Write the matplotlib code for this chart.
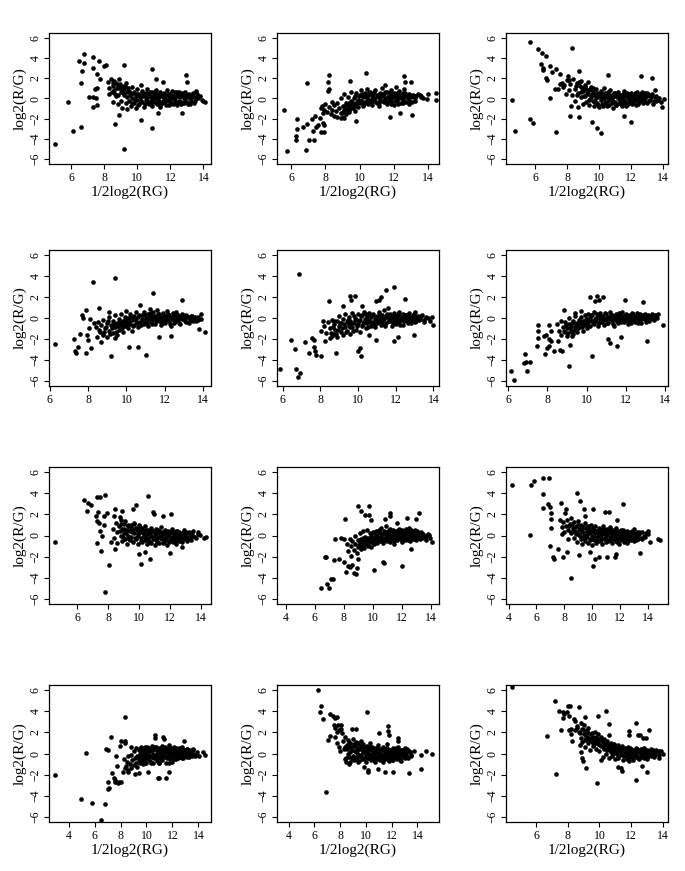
import matplotlib
matplotlib.use("Agg")
import matplotlib.pyplot as plt
from matplotlib.ticker import MultipleLocator

plt.rcParams['font.family'] = ['Liberation Serif', 'DejaVu Serif']

# MA-plot points (A = 1/2log2(RG), M = log2(R/G))
panel1 = [(5.0,-4.55),(5.8,-0.35),(6.1,-3.23),(6.6,-2.84),(6.44,3.72),(6.77,4.42),(6.66,2.72),(6.75,3.5),
          (6.56,1.56),(7.31,4.07),(7.67,3.75),(7.31,3.04),(7.57,2.46),(7.71,1.92),(7.96,3.2),(8.08,3.33),
          (7.07,0.15),(7.31,0.12),(7.51,0.05),(7.33,-0.85),(7.53,-0.66),(7.43,0.98),(7.53,1.08),(9.19,3.33),
          (10.9,2.88),(11.1,1.92),(12.92,2.3),(13.0,1.66),(9.17,-5.03),(8.62,-2.52),(10.23,-2.13),(10.88,-2.9),
          (8.9,-1.65),(12.71,-1.46),(11.24,-1.46),(14.0,-0.27),(14.12,-0.33),(13.56,0.7),(11.54,1.66),
          (8.2,1.6),(8.3,1.0),(8.3,0.4),(8.4,1.9),(8.5,1.2),(8.5,-0.3),(8.6,1.7),(8.6,0.8),(8.7,1.5),(8.7,0.2),
          (8.8,1.3),(8.8,-0.5),(8.9,1.0),(8.9,1.9),(9.0,0.6),(9.0,-0.2),(9.1,1.2),(9.1,-0.9),(9.2,0.3),(9.2,0.9),
          (9.3,-0.4),(9.3,1.5),(9.4,0.1),(9.4,-1.0),(9.5,0.7),(9.5,-0.2),(9.6,0.4),(9.6,-0.7),(9.7,1.1),(9.7,0.0),
          (9.8,-0.4),(9.8,0.6),(9.9,0.2),(9.9,-0.9),(10.0,0.9),(10.0,-0.1),(10.1,0.4),(10.1,-0.5),(10.2,1.3),
          (10.2,0.1),(10.3,-0.3),(10.3,0.7),(10.4,0.2),(10.4,-0.8),(10.5,0.5),(10.5,-0.1),(10.6,0.9),(10.6,0.0),
          (10.7,-0.5),(10.7,0.4),(10.8,0.1),(10.8,-0.2),(10.9,0.6),(10.9,-0.7),(11.0,0.3),(11.0,-0.3),(11.1,0.8),
          (11.1,0.0),(11.2,-0.5),(11.2,0.4),(11.3,0.1),(11.3,-0.2),(11.4,0.6),(11.4,-0.8),(11.5,0.2),(11.5,-0.4),
          (11.6,0.5),(11.6,0.0),(11.7,-0.3),(11.7,0.3),(11.8,0.8),(11.8,-0.1),(11.9,0.1),(11.9,-0.6),(12.0,0.4),
          (12.0,-0.2),(12.1,0.2),(12.1,0.7),(12.2,-0.4),(12.2,0.0),(12.3,0.3),(12.3,-0.1),(12.4,0.6),(12.4,-0.6),
          (12.5,0.1),(12.5,0.4),(12.6,-0.2),(12.6,0.2),(12.7,0.5),(12.7,-0.4),(12.8,0.0),(12.8,0.3),(12.9,-0.2),
          (12.9,0.6),(13.0,0.1),(13.0,-0.3),(13.1,0.4),(13.2,0.0),(13.2,-0.5),(13.3,0.3),(13.4,0.1),(13.5,-0.2),
          (13.6,0.4),(13.7,0.0),(13.8,0.2),(13.9,-0.1)]
core1 = [(8.45,0.6),(8.55,1.5),(8.65,0.4),(8.75,1.0),(8.85,0.3),(8.95,1.4),(9.05,0.9),(9.15,0.5),(9.25,1.2),
         (9.35,0.6),(9.45,1.0),(9.55,0.3),(9.65,-0.4),(9.75,0.5),(9.85,-0.1),(9.95,0.4),(10.05,-0.6),(10.15,0.1),
         (10.25,-0.2),(10.35,0.5),(10.45,-0.5),(10.55,0.2),(10.65,-0.3),(10.75,0.6),(10.85,-0.4),(10.95,0.0),
         (11.05,0.6),(11.15,-0.3),(11.25,0.1),(11.35,-0.6),(11.45,0.4),(11.55,-0.2),(11.65,0.2),(11.75,-0.6),
         (11.85,0.4),(11.95,-0.3),(12.05,0.0),(12.15,-0.5),(12.25,0.6),(12.35,0.2),(12.45,-0.3),(12.55,0.6),
         (12.65,-0.5),(12.75,0.2),(12.85,-0.4),(12.95,0.3),(13.05,-0.5),(13.15,0.2),(13.25,-0.2),(13.35,0.5),
         (13.45,-0.4),(13.55,0.1)]

panel2 = [(5.57,-1.1),(5.76,-5.15),(6.35,-2.03),(6.31,-2.98),(6.26,-3.71),(6.3,-4.13),(6.85,-5.05),(6.9,1.54),
          (6.69,-2.85),(7.04,-4.06),(7.34,-4.13),(6.9,-2.54),(7.2,-2.03),(7.4,-1.7),(7.28,-3.2),(7.54,-2.6),
          (7.69,-1.9),(7.73,-3.33),(7.93,-3.33),(7.83,-2.44),(7.93,-2.66),(7.44,-2.85),(7.73,-0.9),(7.83,-1.48),
          (8.23,2.34),(8.13,1.6),(8.23,0.9),(8.13,0.75),(9.45,1.7),(10.34,2.56),(12.56,2.27),(12.66,1.64),
          (13.0,1.64),(9.76,-2.2),(11.77,-1.8),(13.08,-1.64),(14.0,0.43),(14.43,0.52),(14.46,-0.15),(13.94,-0.05),
          (13.55,0.1),(12.36,-1.48),(8.9,-1.96),(9.1,-1.96),
          (7.8,-0.7),(7.9,-1.1),(8.0,-0.5),(8.1,-1.3),(8.2,-0.8),(8.3,-1.5),(8.4,-0.3),(8.4,-1.1),(8.5,-1.7),
          (8.5,-0.6),(8.6,-1.2),(8.7,-0.4),(8.7,-1.8),(8.8,-0.9),(8.9,-1.4),(8.9,0.0),(9.0,-0.7),(9.0,-1.8),
          (9.1,-1.1),(9.1,0.4),(9.2,-0.4),(9.2,-1.5),(9.3,-0.9),(9.3,0.1),(9.4,-0.6),(9.4,-1.3),(9.5,-0.2),
          (9.5,0.6),(9.6,-0.9),(9.6,-0.4),(9.7,0.2),(9.7,-1.2),(9.8,-0.5),(9.8,0.5),(9.9,-0.1),(9.9,-0.8),
          (10.0,0.3),(10.0,-0.4),(10.1,0.8),(10.1,-0.2),(10.2,0.1),(10.2,-0.7),(10.3,0.5),(10.3,-0.3),(10.4,0.0),
          (10.4,0.9),(10.5,-0.5),(10.5,0.3),(10.6,-0.1),(10.6,0.6),(10.7,0.2),(10.7,-0.6),(10.8,0.4),(10.8,-0.2),
          (10.9,0.0),(10.9,0.8),(11.0,-0.4),(11.0,0.3),(11.1,0.1),(11.1,-0.7),(11.2,0.5),(11.2,-0.1),(11.3,0.2),
          (11.3,1.0),(11.4,-0.3),(11.4,0.4),(11.5,0.0),(11.5,1.3),(11.6,0.6),(11.6,-0.5),(11.7,0.2),(11.7,-0.1),
          (11.8,0.8),(11.8,-0.3),(11.9,0.3),(11.9,0.0),(12.0,-0.6),(12.0,0.5),(12.1,0.1),(12.1,1.1),(12.2,-0.2),
          (12.2,0.4),(12.3,0.0),(12.3,0.7),(12.4,-0.4),(12.4,0.2),(12.5,0.5),(12.5,-0.1),(12.6,0.1),(12.6,0.9),
          (12.7,-0.3),(12.7,0.3),(12.8,0.0),(12.9,0.4),(12.9,-0.5),(13.0,0.1),(13.1,0.3),(13.2,-0.2),(13.3,0.2),
          (13.5,0.3),(13.7,0.0)]
core2 = [(9.05,-1.3),(9.15,-0.7),(9.25,-1.1),(9.35,-0.4),(9.45,-1.0),(9.55,-0.6),(9.65,0.0),(9.75,-0.7),
         (9.85,-0.3),(9.95,0.2),(10.05,-0.2),(10.15,0.4),(10.25,-0.5),(10.35,0.2),(10.45,-0.2),(10.55,0.5),
         (10.65,-0.4),(10.75,0.0),(10.85,0.6),(10.95,-0.3),(11.05,0.2),(11.15,-0.4),(11.25,0.4),(11.35,-0.2),
         (11.45,0.6),(11.55,-0.3),(11.65,0.1),(11.75,0.5),(11.85,-0.5),(11.95,0.2),(12.05,-0.2),(12.15,0.5),
         (12.25,-0.5),(12.35,0.3),(12.45,0.0),(12.55,-0.4),(12.65,0.5),(12.75,0.1),(12.85,-0.2),(12.95,0.3),
         (13.05,-0.3),(13.15,0.2),(13.25,0.0),(13.4,0.4),(13.6,0.2)]

panel3 = [(4.53,-0.1),(4.74,-3.25),(5.69,5.58),(5.69,-2.0),(5.83,-2.42),(6.17,4.94),(6.42,4.47),(6.67,4.21),
          (6.36,3.44),(6.46,3.03),(6.48,2.8),(6.67,1.98),(6.71,1.82),(6.94,3.25),(7.05,2.62),(7.32,2.87),
          (7.53,2.46),(6.9,0.06),(7.26,0.93),(7.42,0.96),(7.57,1.44),(7.68,1.5),(7.72,1.12),(7.32,-3.35),
          (8.3,5.0),(8.76,2.71),(8.09,1.85),(8.05,2.23),(8.16,-1.75),(8.24,-0.7),(8.72,-1.79),(9.56,-2.3),
          (9.87,-2.87),(10.15,-3.38),(10.57,2.36),(11.55,-1.75),(12.03,-2.33),(12.66,2.23),(13.33,2.07),
          (13.96,-0.8),(14.06,-0.06),(13.54,0.86),
          (7.8,1.3),(7.9,0.4),(8.0,1.8),(8.1,0.8),(8.2,1.4),(8.3,0.3),(8.4,1.9),(8.5,0.9),(8.5,-0.2),(8.6,1.5),
          (8.7,0.5),(8.7,-0.8),(8.8,1.2),(8.9,0.1),(8.9,1.7),(9.0,0.7),(9.0,-0.5),(9.1,1.3),(9.1,0.2),(9.2,-0.3),
          (9.2,0.9),(9.3,1.6),(9.3,0.4),(9.4,-0.6),(9.4,0.8),(9.5,0.1),(9.5,1.1),(9.6,-0.2),(9.6,0.6),(9.7,0.3),
          (9.7,-0.7),(9.8,0.9),(9.8,0.0),(9.9,-0.4),(9.9,0.5),(10.0,0.2),(10.0,-0.8),(10.1,0.7),(10.1,-0.1),
          (10.2,0.3),(10.2,-0.5),(10.3,1.0),(10.3,0.0),(10.4,-0.3),(10.4,0.5),(10.5,0.1),(10.5,-0.7),(10.6,0.4),
          (10.6,-0.2),(10.7,0.8),(10.7,0.0),(10.8,-0.4),(10.8,0.3),(10.9,-0.9),(10.9,0.1),(11.0,0.5),(11.0,-0.3),
          (11.1,0.2),(11.1,-0.6),(11.2,0.0),(11.2,0.6),(11.3,-0.2),(11.3,0.3),(11.4,-0.5),(11.4,0.1),(11.5,0.4),
          (11.5,-0.1),(11.6,0.7),(11.6,-0.4),(11.7,0.2),(11.7,-0.7),(11.8,0.0),(11.8,0.4),(11.9,-0.3),(11.9,0.2),
          (12.0,0.5),(12.0,-0.1),(12.1,-0.5),(12.1,0.3),(12.2,0.1),(12.2,-0.2),(12.3,0.4),(12.3,-0.6),(12.4,0.0),
          (12.4,0.6),(12.5,-0.3),(12.5,0.2),(12.6,0.4),(12.6,-0.1),(12.7,0.1),(12.7,0.6),(12.8,-0.2),(12.8,0.3),
          (12.9,0.0),(12.9,0.5),(13.0,-0.4),(13.0,0.2),(13.1,0.4),(13.2,-0.1),(13.3,0.3),(13.4,-0.5),(13.5,0.1),
          (13.6,-0.2),(13.8,0.0),(13.9,-0.3)]
core3 = [(8.55,1.2),(8.65,0.3),(8.75,1.6),(8.85,0.6),(8.95,1.0),(9.05,0.2),(9.15,1.1),(9.25,0.5),(9.35,-0.1),
         (9.45,0.9),(9.55,0.4),(9.65,1.0),(9.75,-0.3),(9.85,0.4),(9.95,-0.6),(10.05,0.5),(10.15,0.0),(10.25,-0.7),
         (10.35,0.3),(10.45,-0.4),(10.55,0.6),(10.65,-0.6),(10.75,0.2),(10.85,-0.1),(10.95,0.5),(11.05,-0.6),
         (11.15,0.3),(11.25,-0.4),(11.35,0.0),(11.45,-0.7),(11.55,0.2),(11.65,-0.2),(11.75,0.5),(11.85,-0.5),
         (11.95,0.0),(12.05,0.3),(12.15,-0.3),(12.25,0.5),(12.35,-0.1),(12.45,-0.5),(12.55,0.0),(12.65,0.3),
         (12.75,-0.4),(12.85,0.1),(12.95,-0.3),(13.05,0.5),(13.15,-0.2),(13.25,0.1),(13.35,0.4),(13.45,-0.2),
         (13.6,0.2),(13.7,-0.1)]

panel4 = [(6.26,-2.52),(7.25,-1.97),(7.3,-3.18),(7.35,-3.34),(7.47,-2.77),(7.6,-1.5),(7.71,0.25),(7.74,0.03),
          (7.88,0.73),(7.92,-3.34),(8.0,-2.13),(7.95,-1.66),(8.05,-0.92),(8.17,-2.83),(8.08,-0.13),(8.25,3.44),
          (9.38,3.85),(8.3,-0.48),(8.48,-1.82),(8.55,0.99),(8.57,-1.11),(8.7,-2.29),(8.77,-1.5),(9.08,0.57),
          (9.2,-3.66),(9.38,-1.88),(10.14,-2.77),(10.6,-2.77),(11.02,-3.57),(11.4,2.39),(11.71,-1.82),
          (12.32,-1.76),(12.87,1.69),(13.79,-1.02),(14.1,-1.34),(13.88,0.35),
          (8.4,-0.9),(8.5,-0.4),(8.6,-1.3),(8.7,-0.7),(8.8,-1.6),(8.8,-0.2),(8.9,-1.0),(9.0,-0.5),(9.0,-1.8),
          (9.1,-1.2),(9.1,0.1),(9.2,-0.7),(9.3,-1.4),(9.3,-0.3),(9.4,-0.9),(9.4,0.3),(9.5,-0.5),(9.5,-1.6),
          (9.6,-0.1),(9.6,-1.1),(9.7,-0.7),(9.7,0.4),(9.8,-0.3),(9.8,-1.3),(9.9,0.1),(9.9,-0.8),(10.0,-0.4),
          (10.0,0.7),(10.1,-1.0),(10.1,0.0),(10.2,-0.6),(10.2,0.4),(10.3,-0.2),(10.3,-1.2),(10.4,0.2),(10.4,-0.7),
          (10.5,-0.3),(10.5,0.6),(10.6,-0.9),(10.6,0.1),(10.7,-0.4),(10.7,1.2),(10.8,0.3),(10.8,-0.1),(10.9,-0.6),
          (10.9,0.6),(11.0,0.0),(11.0,-0.3),(11.1,0.4),(11.1,-0.8),(11.2,0.1),(11.2,0.9),(11.3,-0.4),(11.3,0.3),
          (11.4,-0.1),(11.4,0.6),(11.5,-0.6),(11.5,0.2),(11.6,0.0),(11.6,0.8),(11.7,-0.3),(11.7,0.4),(11.8,0.1),
          (11.8,-0.7),(11.9,0.5),(11.9,-0.2),(12.0,0.2),(12.0,-0.5),(12.1,0.0),(12.1,0.7),(12.2,-0.3),(12.2,0.3),
          (12.3,0.1),(12.3,-0.8),(12.4,0.5),(12.4,-0.1),(12.5,0.2),(12.5,-0.5),(12.6,0.0),(12.6,0.6),(12.7,-0.2),
          (12.7,0.3),(12.8,0.1),(12.8,-0.6),(12.9,0.4),(12.9,-0.1),(13.0,0.0),(13.1,0.3),(13.1,-0.4),(13.2,0.1),
          (13.3,-0.2),(13.4,0.2),(13.5,-0.1),(13.6,-0.3),(13.7,0.1),(13.9,-0.1)]
core4 = [(8.85,-1.3),(8.95,-0.9),(9.05,-0.3),(9.15,-1.5),(9.25,-1.0),(9.35,-0.6),(9.45,-1.3),(9.55,-0.8),
         (9.65,-0.4),(9.75,-1.0),(9.85,-0.6),(9.95,-0.2),(10.05,-0.7),(10.15,-0.3),(10.25,0.1),(10.35,-0.8),
         (10.45,-0.1),(10.55,-0.5),(10.65,0.3),(10.75,-0.7),(10.85,-0.2),(10.95,0.3),(11.05,-0.5),(11.15,-0.1),
         (11.25,0.5),(11.35,-0.6),(11.45,0.1),(11.55,-0.3),(11.65,0.4),(11.75,-0.1),(11.85,-0.5),(11.95,0.2),
         (12.05,-0.2),(12.15,0.4),(12.25,-0.6),(12.35,-0.1),(12.45,0.3),(12.55,-0.3),(12.65,0.2),(12.75,-0.5),
         (12.85,0.0),(12.95,0.3),(13.05,-0.3),(13.15,0.1),(13.25,-0.5),(13.35,0.2),(13.45,-0.3),(13.55,0.1),
         (13.7,-0.2)]

panel5 = [(5.85,-4.9),(6.44,-2.12),(6.63,-3.0),(6.72,-4.9),(6.89,4.18),(6.84,-5.63),(6.93,-5.22),(7.16,-2.31),
          (7.4,-3.32),(7.58,-1.9),(7.68,-2.06),(7.68,-2.75),(7.72,-3.16),(7.75,-3.48),(8.04,-3.58),(8.04,-1.27),
          (8.16,-0.25),(8.25,-2.22),(8.46,1.58),(8.6,-1.74),(8.81,-3.32),(9.21,1.11),(9.56,2.12),(9.61,1.74),
          (9.86,2.12),(10.0,-3.1),(10.18,-3.58),(10.09,-2.85),(10.21,1.11),(10.96,1.58),(11.09,1.74),(11.23,2.0),
          (11.49,2.63),(11.89,2.91),(11.93,-2.15),(12.11,-1.8),(12.49,1.84),(12.95,-1.58),(10.96,-2.12),
          (10.56,-1.58),(13.95,0.1),(14.0,-0.63),
          (8.2,-0.8),(8.3,-1.4),(8.4,-0.4),(8.5,-1.9),(8.5,-1.0),(8.6,-0.2),(8.7,-1.5),(8.7,-0.6),(8.8,-1.1),
          (8.9,-0.3),(8.9,-1.8),(9.0,-0.8),(9.0,0.2),(9.1,-1.3),(9.1,-0.5),(9.2,-0.1),(9.2,-1.6),(9.3,-0.9),
          (9.3,0.4),(9.4,-0.4),(9.4,-1.2),(9.5,-0.7),(9.5,0.1),(9.6,-1.5),(9.6,-0.3),(9.7,0.5),(9.7,-0.9),
          (9.8,-0.5),(9.8,0.2),(9.9,-1.1),(9.9,-0.1),(10.0,0.4),(10.0,-0.6),(10.1,-0.2),(10.1,-1.3),(10.2,0.3),
          (10.2,-0.8),(10.3,-0.4),(10.3,0.6),(10.4,-0.1),(10.4,-1.0),(10.5,0.2),(10.5,-0.5),(10.6,-0.2),(10.6,0.5),
          (10.7,-0.8),(10.7,0.1),(10.8,-0.4),(10.8,0.4),(10.9,-0.1),(10.9,-0.9),(11.0,0.2),(11.0,-0.5),(11.1,0.6),
          (11.1,-0.2),(11.2,0.0),(11.2,-0.7),(11.3,0.3),(11.3,-0.3),(11.4,0.8),(11.4,-0.1),(11.5,-0.5),(11.5,0.2),
          (11.6,0.0),(11.6,1.0),(11.7,-0.3),(11.7,0.4),(11.8,-0.8),(11.8,0.1),(11.9,0.5),(11.9,-0.2),(12.0,0.0),
          (12.0,-0.6),(12.1,0.3),(12.1,-0.1),(12.2,0.6),(12.2,-0.4),(12.3,0.1),(12.3,-0.2),(12.4,0.4),(12.4,-0.7),
          (12.5,0.0),(12.5,0.3),(12.6,-0.3),(12.6,0.2),(12.7,0.5),(12.7,-0.1),(12.8,0.1),(12.8,-0.5),(12.9,0.3),
          (12.9,-0.2),(13.0,0.0),(13.0,0.6),(13.1,-0.3),(13.2,0.2),(13.3,-0.1),(13.4,0.3),(13.5,-0.2),(13.7,0.0),
          (13.8,-0.3)]
core5 = [(8.55,-1.4),(8.65,-0.9),(8.75,-0.3),(8.85,-1.5),(8.95,-1.1),(9.05,-0.5),(9.15,-1.0),(9.25,-0.6),
         (9.35,-1.3),(9.45,-0.2),(9.55,-0.9),(9.65,-0.5),(9.75,-1.2),(9.85,-0.2),(9.95,-0.8),(10.05,-0.3),
         (10.15,0.2),(10.25,-0.6),(10.35,-0.1),(10.45,0.4),(10.55,-0.9),(10.65,-0.4),(10.75,0.3),(10.85,-0.6),
         (10.95,0.1),(11.05,-0.3),(11.15,0.3),(11.25,-0.5),(11.35,0.0),(11.45,-0.8),(11.55,0.4),(11.65,-0.3),
         (11.75,0.1),(11.85,-0.5),(11.95,0.2),(12.05,-0.3),(12.15,0.4),(12.25,-0.7),(12.35,0.0),(12.45,-0.3),
         (12.55,0.3),(12.65,-0.5),(12.75,0.1),(12.85,-0.2),(12.95,0.4),(13.05,-0.4),(13.15,0.1),(13.25,-0.2),
         (13.35,0.2),(13.5,-0.4),(13.6,0.1)]

panel6 = [(6.14,-5.02),(6.27,-5.94),(6.86,-3.43),(6.82,-4.29),(6.91,-4.22),(6.96,-5.02),(7.13,-4.22),(7.46,-2.63),
          (7.51,-1.9),(7.51,-1.27),(7.51,-0.7),(7.82,-1.75),(7.89,-3.43),(7.95,-1.59),(8.0,-2.86),(8.06,-2.0),
          (8.06,-0.63),(8.08,-2.7),(8.2,-1.27),(8.2,-2.22),(8.32,-3.17),(8.54,-2.16),(8.63,-3.08),(8.76,-3.11),
          (8.85,0.79),(9.09,-4.54),(9.14,-2.54),(9.28,-1.75),(9.4,0.48),(9.74,0.7),(10.17,2.0),(10.26,-3.65),
          (10.43,1.65),(10.52,2.13),(10.65,1.75),(10.86,2.0),(11.08,-2.0),(11.2,-2.38),(11.54,-2.7),(11.77,-1.84),
          (11.97,1.75),(13.12,-2.16),(12.87,1.49),(13.9,-0.63),(13.64,0.41),
          (8.5,-0.6),(8.6,-1.2),(8.7,-0.3),(8.7,-1.6),(8.8,-0.9),(8.9,-1.3),(8.9,-0.4),(9.0,-1.0),(9.0,-1.7),
          (9.1,-0.6),(9.1,0.0),(9.2,-1.2),(9.2,-0.8),(9.3,-0.3),(9.3,-1.5),(9.4,-0.9),(9.4,0.2),(9.5,-0.5),
          (9.5,-1.3),(9.6,-0.2),(9.6,-0.9),(9.7,0.1),(9.7,-0.6),(9.8,-1.2),(9.8,-0.3),(9.9,0.3),(9.9,-0.7),
          (10.0,-0.1),(10.0,-1.0),(10.1,0.4),(10.1,-0.4),(10.2,0.0),(10.2,-0.8),(10.3,0.3),(10.3,-0.3),(10.4,-0.6),
          (10.4,0.6),(10.5,0.0),(10.5,-0.3),(10.6,0.3),(10.6,-0.8),(10.7,-0.1),(10.7,0.5),(10.8,-0.4),(10.8,0.2),
          (10.9,0.0),(10.9,-0.7),(11.0,0.4),(11.0,-0.2),(11.1,0.1),(11.1,-0.5),(11.2,0.6),(11.2,-0.1),(11.3,-0.3),
          (11.3,0.3),(11.4,0.0),(11.4,-0.8),(11.5,0.4),(11.5,-0.2),(11.6,0.1),(11.6,-0.5),(11.7,0.3),(11.7,-0.1),
          (11.8,0.0),(11.8,0.6),(11.9,-0.4),(11.9,0.2),(12.0,-0.1),(12.0,0.4),(12.1,-0.6),(12.1,0.1),(12.2,0.3),
          (12.2,-0.2),(12.3,0.0),(12.3,-0.5),(12.4,0.4),(12.4,-0.1),(12.5,0.2),(12.5,-0.4),(12.6,0.0),(12.6,0.5),
          (12.7,-0.2),(12.7,0.2),(12.8,0.0),(12.8,-0.5),(12.9,0.3),(13.0,-0.1),(13.0,0.4),(13.1,0.1),(13.2,-0.3),
          (13.3,0.2),(13.4,-0.1),(13.5,0.3),(13.6,0.0)]
core6 = [(8.85,-1.2),(8.95,-0.7),(9.05,-1.4),(9.15,-1.0),(9.25,-0.5),(9.35,-1.1),(9.45,-0.6),(9.55,-1.0),
         (9.65,-0.4),(9.75,-0.9),(9.85,-0.5),(9.95,-0.1),(10.05,-0.6),(10.15,-0.2),(10.25,0.3),(10.35,-0.5),
         (10.45,-0.1),(10.55,0.4),(10.65,-0.5),(10.75,0.1),(10.85,-0.2),(10.95,0.5),(11.05,-0.5),(11.15,0.0),
         (11.25,0.3),(11.35,-0.6),(11.45,0.2),(11.55,-0.3),(11.65,0.5),(11.75,-0.4),(11.85,0.1),(11.95,-0.2),
         (12.05,0.3),(12.15,-0.4),(12.25,0.0),(12.35,0.5),(12.45,-0.3),(12.55,0.1),(12.65,-0.5),(12.75,0.4),
         (12.85,-0.1),(12.95,0.2),(13.05,-0.4),(13.15,0.3),(13.25,-0.1),(13.35,0.4),(13.45,-0.2),(13.55,0.2)]

panel7 = [(4.54,-0.64),(6.41,3.36),(6.69,3.04),(6.9,2.85),(6.62,2.3),(7.18,1.89),(7.27,3.68),(7.44,3.68),
          (7.81,3.84),(7.33,2.21),(7.29,1.34),(7.4,1.18),(7.29,-0.74),(7.55,-1.44),(7.44,0.38),(7.61,-0.03),
          (7.76,1.89),(7.9,2.14),(7.7,1.02),(7.81,-5.31),(8.02,-2.75),(8.47,2.46),(8.37,1.82),(8.15,-0.58),
          (8.47,-1.31),(8.76,1.76),(8.9,2.3),(9.79,2.85),(10.57,3.74),(9.62,2.46),(10.0,-1.79),(10.11,-2.72),
          (10.36,-1.54),(10.68,-2.27),(10.89,2.21),(10.99,2.08),(11.52,1.82),(12.08,2.08),(12.0,-1.7),
          (12.8,-1.12),(13.79,0.32),(13.95,0.06),(13.7,-0.26),(14.2,-0.26),(14.3,-0.1),
          (8.3,0.6),(8.4,-0.2),(8.5,1.2),(8.6,0.3),(8.6,-0.7),(8.7,0.9),(8.8,0.0),(8.8,1.5),(8.9,-0.5),(8.9,0.6),
          (9.0,1.1),(9.0,0.2),(9.1,-0.3),(9.1,1.4),(9.2,0.5),(9.2,-0.8),(9.3,0.9),(9.3,0.0),(9.4,-0.4),(9.4,0.4),
          (9.5,1.0),(9.5,-0.1),(9.6,0.6),(9.6,-0.6),(9.7,0.2),(9.7,1.2),(9.8,-0.3),(9.8,0.7),(9.9,0.0),(9.9,-0.8),
          (10.0,0.4),(10.0,1.0),(10.1,-0.2),(10.1,0.3),(10.2,-0.6),(10.2,0.7),(10.3,0.0),(10.3,0.4),(10.4,-0.4),
          (10.4,0.9),(10.5,0.1),(10.5,-0.8),(10.6,0.5),(10.6,-0.2),(10.7,0.2),(10.7,-0.6),(10.8,0.7),(10.8,0.0),
          (10.9,-0.3),(10.9,0.4),(11.0,-0.9),(11.0,0.1),(11.1,0.6),(11.1,-0.4),(11.2,0.2),(11.2,-0.1),(11.3,-0.7),
          (11.3,0.4),(11.4,0.0),(11.4,0.8),(11.5,-0.3),(11.5,0.3),(11.6,-0.6),(11.6,0.1),(11.7,0.5),(11.7,-0.2),
          (11.8,0.2),(11.8,-0.9),(11.9,0.0),(11.9,0.4),(12.0,-0.4),(12.0,0.2),(12.1,0.6),(12.1,-0.1),(12.2,-0.6),
          (12.2,0.3),(12.3,0.0),(12.3,-0.3),(12.4,0.4),(12.4,-0.8),(12.5,0.1),(12.5,-0.2),(12.6,0.3),(12.6,-0.5),
          (12.7,0.0),(12.8,0.2),(12.8,-0.3),(12.9,0.5),(13.0,-0.1),(13.0,0.1),(13.1,-0.5),(13.2,0.3),(13.3,-0.2),
          (13.4,0.0),(13.5,0.4),(13.6,-0.1),(13.8,0.1)]
core7 = [(8.75,0.4),(8.85,1.1),(8.95,-0.1),(9.05,0.6),(9.15,0.2),(9.25,1.0),(9.35,-0.3),(9.45,0.7),(9.55,0.3),
         (9.65,1.1),(9.75,-0.2),(9.85,0.5),(9.95,0.1),(10.05,0.8),(10.15,-0.5),(10.25,0.2),(10.35,-0.1),
         (10.45,0.5),(10.55,-0.4),(10.65,0.2),(10.75,-0.7),(10.85,0.4),(10.95,-0.1),(11.05,0.3),(11.15,-0.6),
         (11.25,0.5),(11.35,-0.2),(11.45,0.1),(11.55,-0.7),(11.65,0.4),(11.75,-0.4),(11.85,0.0),(11.95,-0.6),
         (12.05,0.3),(12.15,-0.3),(12.25,0.1),(12.35,-0.5),(12.45,0.4),(12.55,-0.1),(12.65,0.1),(12.75,-0.6),
         (12.85,0.2),(12.95,-0.3),(13.05,0.3),(13.15,-0.1),(13.25,0.2),(13.35,-0.4),(13.45,0.1)]

panel8 = [(6.46,-4.99),(6.68,-2.08),(6.75,-2.02),(6.84,-4.58),(6.97,-4.96),(7.13,-4.16),(7.24,-4.1),(7.4,-0.35),
          (7.35,-2.34),(7.7,-2.24),(7.82,-0.26),(8.05,-0.35),(8.09,1.57),(8.05,-2.5),(8.16,-3.46),(8.32,-2.91),
          (8.46,-2.98),(8.57,-2.82),(8.73,-3.52),(8.85,-3.62),(8.92,-3.04),(9.01,-2.27),(8.97,2.78),(9.2,2.3),
          (9.49,1.98),(9.77,2.78),(9.77,1.98),(9.89,1.5),(10.07,-3.3),(10.73,-2.5),(10.75,-2.59),(10.87,1.57),
          (11.19,2.14),(11.19,1.82),(11.67,1.18),(12.05,-2.91),(12.35,1.66),(12.63,-1.31),(12.97,1.6),(13.2,2.14),
          (13.66,-0.42),(14.11,-0.58),(13.89,0.06),
          (8.2,-0.8),(8.3,-1.5),(8.4,-0.3),(8.5,-1.9),(8.5,-1.0),(8.6,-0.5),(8.7,-1.4),(8.8,-0.8),(8.8,0.0),
          (8.9,-1.7),(9.0,-0.4),(9.0,-1.1),(9.1,-0.7),(9.1,0.2),(9.2,-1.3),(9.2,-0.3),(9.3,-0.8),(9.3,0.4),
          (9.4,-0.5),(9.4,-1.2),(9.5,-0.1),(9.5,-0.8),(9.6,-0.4),(9.6,0.5),(9.7,-1.0),(9.7,-0.2),(9.8,0.2),
          (9.8,-0.6),(9.9,-0.3),(9.9,-1.1),(10.0,0.3),(10.0,-0.5),(10.1,-0.1),(10.1,-0.8),(10.2,0.4),(10.2,-0.3),
          (10.3,0.0),(10.3,-0.7),(10.4,0.5),(10.4,-0.2),(10.5,-0.5),(10.5,0.2),(10.6,-0.1),(10.6,0.7),(10.7,-0.7),
          (10.7,0.1),(10.8,0.4),(10.8,-0.3),(10.9,0.0),(10.9,0.9),(11.0,-0.5),(11.0,0.3),(11.1,0.1),(11.1,-0.2),
          (11.2,0.6),(11.2,-0.6),(11.3,0.0),(11.3,0.3),(11.4,-0.3),(11.4,0.5),(11.5,0.1),(11.5,-0.8),(11.6,0.4),
          (11.6,-0.1),(11.7,0.2),(11.7,-0.4),(11.8,0.0),(11.8,0.6),(11.9,-0.2),(11.9,0.3),(12.0,0.1),(12.0,-0.6),
          (12.1,0.4),(12.1,-0.1),(12.2,0.2),(12.2,-0.4),(12.3,0.6),(12.3,0.0),(12.4,-0.2),(12.4,0.3),(12.5,0.0),
          (12.5,0.7),(12.6,-0.5),(12.6,0.2),(12.7,-0.1),(12.7,0.4),(12.8,0.1),(12.8,-0.3),(12.9,0.5),(13.0,0.0),
          (13.0,-0.4),(13.1,0.2),(13.2,-0.1),(13.3,0.3),(13.4,-0.2),(13.5,0.1),(13.7,0.0)]
core8 = [(9.05,-0.9),(9.15,-0.4),(9.25,-1.0),(9.35,-0.2),(9.45,-0.7),(9.55,-0.4),(9.65,-0.9),(9.75,-0.5),
         (9.85,0.0),(9.95,-0.6),(10.05,-0.2),(10.15,0.2),(10.25,-0.5),(10.35,-0.2),(10.45,0.3),(10.55,-0.3),
         (10.65,0.1),(10.75,-0.4),(10.85,0.3),(10.95,-0.2),(11.05,0.1),(11.15,0.5),(11.25,-0.3),(11.35,0.2),
         (11.45,-0.5),(11.55,0.3),(11.65,-0.1),(11.75,0.5),(11.85,-0.3),(11.95,0.1),(12.05,0.5),(12.15,-0.3),
         (12.25,0.0),(12.35,0.4),(12.45,-0.4),(12.55,0.2),(12.65,0.5),(12.75,-0.2),(12.85,0.2),(12.95,-0.3),
         (13.05,0.4),(13.15,0.0),(13.25,-0.3),(13.35,0.2),(13.45,0.0),(13.6,-0.2),(13.8,0.1),(13.95,-0.2)]

panel9 = [(4.22,4.8),(5.57,0.06),(5.61,4.77),(5.81,5.18),(6.46,5.44),(6.89,5.44),(6.46,3.9),(6.46,2.62),
          (6.82,3.0),(6.94,2.69),(7.01,2.14),(7.06,1.57),(7.01,0.7),(6.94,-0.99),(7.18,-2.02),(7.25,-2.24),
          (7.54,-1.31),(7.66,1.44),(7.78,3.1),(7.86,0.16),(8.03,2.14),(8.15,2.46),(7.9,-2.02),(8.2,-1.6),
          (8.46,-4.0),(8.94,4.06),(9.11,3.26),(9.04,-1.86),(9.4,2.53),(9.52,1.89),(9.84,-1.54),(10.08,2.53),
          (10.08,-2.91),(10.2,-2.24),(10.48,-2.02),(10.92,2.21),(11.08,-2.02),(11.23,2.21),(11.66,-2.02),
          (11.7,-1.76),(12.24,2.94),(11.82,1.5),(13.46,-1.63),(14.73,-0.35),(14.84,-0.42),(14.13,-0.58),(14.0,0.38),
          (7.8,0.8),(7.9,1.3),(8.0,0.3),(8.1,0.9),(8.2,1.5),(8.3,0.5),(8.3,-0.3),(8.4,1.1),(8.5,0.2),(8.5,1.7),
          (8.6,0.7),(8.7,-0.2),(8.7,1.3),(8.8,0.4),(8.9,0.9),(8.9,-0.6),(9.0,0.1),(9.0,1.4),(9.1,0.6),(9.2,-0.3),
          (9.2,1.0),(9.3,0.3),(9.3,-0.8),(9.4,0.8),(9.4,0.0),(9.5,1.2),(9.5,-0.5),(9.6,0.4),(9.6,-0.1),(9.7,0.9),
          (9.7,-0.7),(9.8,0.2),(9.8,0.6),(9.9,-0.3),(9.9,1.0),(10.0,0.0),(10.0,-0.9),(10.1,0.5),(10.1,-0.4),
          (10.2,0.2),(10.2,0.9),(10.3,-0.2),(10.3,-0.7),(10.4,0.4),(10.4,0.0),(10.5,0.7),(10.5,-0.5),(10.6,0.1),
          (10.6,-0.2),(10.7,0.5),(10.7,-0.8),(10.8,0.2),(10.8,0.9),(10.9,-0.3),(10.9,0.3),(11.0,0.0),(11.0,-0.6),
          (11.1,0.6),(11.1,0.1),(11.2,-0.4),(11.2,0.4),(11.3,-0.1),(11.3,0.8),(11.4,0.2),(11.4,-0.7),(11.5,0.0),
          (11.5,0.5),(11.6,-0.3),(11.6,0.2),(11.7,0.7),(11.7,-0.5),(11.8,0.1),(11.8,-0.2),(11.9,0.4),(11.9,-0.8),
          (12.0,0.0),(12.0,0.3),(12.1,-0.4),(12.1,0.1),(12.2,0.5),(12.2,-0.2),(12.3,-0.6),(12.3,0.2),(12.4,0.0),
          (12.4,-0.3),(12.5,0.4),(12.5,-0.7),(12.6,0.1),(12.6,-0.2),(12.7,0.3),(12.8,-0.4),(12.8,0.0),(12.9,0.2),
          (13.0,-0.5),(13.0,0.6),(13.1,-0.1),(13.2,0.3),(13.3,-0.3),(13.4,0.1),(13.5,-0.2),(13.6,0.3),(13.8,-0.1),
          (14.0,0.1)]
core9 = [(8.35,0.9),(8.45,0.3),(8.55,1.1),(8.65,0.4),(8.75,0.8),(8.85,0.1),(8.95,1.0),(9.05,0.5),(9.15,0.0),
         (9.25,0.7),(9.35,0.3),(9.45,-0.2),(9.55,0.7),(9.65,0.1),(9.75,0.5),(9.85,-0.4),(9.95,0.3),(10.05,0.7),
         (10.15,-0.1),(10.25,0.4),(10.35,-0.5),(10.45,0.2),(10.55,0.5),(10.65,-0.4),(10.75,0.1),(10.85,0.6),
         (10.95,-0.2),(11.05,0.3),(11.15,-0.5),(11.25,0.2),(11.35,0.5),(11.45,-0.3),(11.55,0.0),(11.65,0.4),
         (11.75,-0.6),(11.85,0.2),(11.95,-0.3),(12.05,0.5),(12.15,-0.1),(12.25,0.1),(12.35,-0.4),(12.45,0.3),
         (12.55,-0.5),(12.65,0.0),(12.75,-0.2),(12.85,0.4),(12.95,-0.3),(13.05,0.1),(13.15,-0.4),(13.25,0.0),
         (13.4,0.3),(13.55,-0.3),(13.7,0.0),(13.9,0.2)]

panel10 = [(2.92,-2.03),(4.97,-4.34),(5.31,0.03),(5.82,-4.72),(6.51,-6.3),(6.77,-4.81),(6.9,0.44),(7.03,0.35),
           (7.03,-2.66),(7.1,-3.29),(7.03,-3.35),(7.23,1.55),(7.36,-1.87),(7.49,-2.28),(7.54,-2.5),(7.59,-2.66),
           (7.67,-0.28),(7.72,-1.14),(7.79,-2.82),(7.92,-2.72),(8.05,-2.72),(7.97,0.73),(8.05,1.14),(8.31,0.98),
           (8.38,1.2),(8.38,3.45),(8.18,-1.77),(8.31,-1.33),(8.56,-1.71),(8.82,-0.13),(8.82,0.66),(9.08,-1.9),
           (9.46,-1.87),(10.1,-1.77),(10.62,1.77),(10.69,1.46),(11.26,1.55),(11.38,1.39),(10.87,-2.34),
           (11.0,-2.34),(11.51,-2.34),(11.77,-1.77),(12.92,1.2),(13.56,0.44),(14.33,0.13),(14.54,-0.13),(14.03,-0.28),
           (8.3,-0.5),(8.4,-1.2),(8.5,-0.8),(8.6,-1.6),(8.6,-0.2),(8.7,-1.0),(8.8,-1.4),(8.9,-0.6),(9.0,-1.1),
           (9.0,0.2),(9.1,-0.4),(9.2,-0.9),(9.2,0.5),(9.3,-0.2),(9.3,-1.3),(9.4,-0.6),(9.4,0.3),(9.5,0.0),
           (9.5,-0.9),(9.6,0.6),(9.6,-0.4),(9.7,-0.1),(9.7,-1.0),(9.8,0.3),(9.8,-0.6),(9.9,0.0),(9.9,0.6),
           (10.0,-0.3),(10.0,-0.9),(10.1,0.2),(10.1,-0.5),(10.2,0.5),(10.2,-0.1),(10.3,-0.7),(10.3,0.2),(10.4,-0.3),
           (10.4,0.7),(10.5,0.0),(10.5,-0.9),(10.6,0.4),(10.6,-0.4),(10.7,-0.1),(10.7,0.6),(10.8,-0.7),(10.8,0.2),
           (10.9,0.0),(10.9,-0.4),(11.0,0.5),(11.0,-0.9),(11.1,0.1),(11.1,-0.2),(11.2,0.7),(11.2,-0.6),(11.3,0.3),
           (11.3,0.0),(11.4,-0.3),(11.4,0.5),(11.5,-0.9),(11.5,0.1),(11.6,0.4),(11.6,-0.2),(11.7,0.0),(11.7,0.8),
           (11.8,-0.5),(11.8,0.2),(11.9,0.5),(11.9,-0.1),(12.0,-0.8),(12.0,0.3),(12.1,0.0),(12.1,0.6),(12.2,-0.3),
           (12.2,0.2),(12.3,0.4),(12.3,-0.5),(12.4,0.1),(12.4,-0.1),(12.5,0.5),(12.5,-0.3),(12.6,0.2),(12.6,0.0),
           (12.7,-0.4),(12.7,0.4),(12.8,0.1),(12.9,-0.2),(12.9,0.3),(13.0,0.0),(13.1,0.4),(13.1,-0.3),(13.2,0.1),
           (13.3,-0.1),(13.4,0.2),(13.5,-0.2),(13.6,0.0),(13.8,-0.1)]
core10 = [(9.35,-0.3),(9.45,0.4),(9.55,-0.6),(9.65,0.2),(9.75,-0.4),(9.85,-0.9),(9.95,0.2),(10.05,0.6),
          (10.15,-0.2),(10.25,0.3),(10.35,-0.9),(10.45,0.3),(10.55,-0.3),(10.65,0.6),(10.75,-0.4),(10.85,0.4),
          (10.95,-0.9),(11.05,0.2),(11.15,-0.5),(11.25,0.4),(11.35,-0.2),(11.45,0.6),(11.55,-0.4),(11.65,0.2),
          (11.75,-0.9),(11.85,0.5),(11.95,-0.2),(12.05,0.1),(12.15,-0.5),(12.25,0.5),(12.35,0.0),(12.45,-0.4),
          (12.55,0.3),(12.65,-0.2),(12.75,0.6),(12.85,-0.4),(12.95,0.2),(13.05,-0.1),(13.15,0.4),(13.25,-0.3),
          (13.35,0.3),(13.45,0.0),(13.6,0.3),(13.75,-0.2),(13.9,0.1)]

panel11 = [(6.31,5.98),(6.51,4.46),(6.44,3.89),(6.64,3.29),(6.9,-3.67),(7.03,1.3),(7.21,1.68),(7.21,3.73),
           (7.46,3.51),(7.59,3.35),(7.72,3.42),(7.54,2.72),(7.59,2.41),(7.72,2.03),(7.85,2.66),(7.9,2.25),
           (8.08,2.72),(8.08,2.34),(8.15,1.93),(7.59,1.52),(7.79,1.04),(7.9,0.66),(7.97,0.25),(8.36,0.57),
           (8.49,-0.38),(8.49,-0.82),(8.67,-1.01),(8.95,2.34),(9.26,2.34),(9.21,-0.51),(9.38,-0.85),(10.1,3.89),
           (9.87,-1.23),(10.18,-1.55),(10.13,-1.71),(11.05,1.93),(11.74,2.56),(11.69,2.15),(11.82,1.77),
           (12.46,1.46),(12.51,1.2),(10.97,-1.49),(11.51,-1.71),(12.08,-1.71),(13.36,-1.87),(14.26,-1.49),
           (15.15,-0.06),(14.64,0.25),(14.26,-0.13),
           (8.2,1.2),(8.3,0.4),(8.4,1.6),(8.4,-0.5),(8.5,0.8),(8.6,0.0),(8.6,1.3),(8.7,-0.3),(8.7,0.6),(8.8,1.0),
           (8.8,-0.8),(8.9,0.3),(9.0,1.4),(9.0,-0.2),(9.1,0.7),(9.1,-0.6),(9.2,1.1),(9.2,0.1),(9.3,0.5),(9.3,-0.4),
           (9.4,0.9),(9.4,0.0),(9.5,-0.7),(9.5,0.4),(9.6,1.2),(9.6,-0.1),(9.7,0.6),(9.7,-0.5),(9.8,0.2),(9.8,0.9),
           (9.9,-0.3),(9.9,0.5),(10.0,0.0),(10.0,-0.8),(10.1,0.7),(10.1,0.2),(10.2,-0.4),(10.2,0.4),(10.3,-0.1),
           (10.3,1.0),(10.4,0.3),(10.4,-0.6),(10.5,0.0),(10.5,0.6),(10.6,-0.3),(10.6,0.2),(10.7,-0.8),(10.7,0.5),
           (10.8,0.0),(10.8,-0.4),(10.9,0.3),(10.9,0.8),(11.0,-0.2),(11.0,0.1),(11.1,-0.6),(11.1,0.4),(11.2,0.0),
           (11.2,-0.3),(11.3,0.6),(11.3,-0.8),(11.4,0.2),(11.4,-0.1),(11.5,-0.5),(11.5,0.4),(11.6,0.0),(11.6,0.9),
           (11.7,-0.3),(11.7,0.2),(11.8,-0.7),(11.8,0.0),(11.9,0.3),(11.9,-0.4),(12.0,0.1),(12.0,-0.2),(12.1,0.5),
           (12.1,-0.6),(12.2,0.0),(12.2,0.2),(12.3,-0.3),(12.3,0.4),(12.4,-0.5),(12.4,0.1),(12.5,-0.1),(12.5,0.6),
           (12.6,0.2),(12.6,-0.4),(12.7,0.0),(12.7,-0.7),(12.8,0.3),(12.9,-0.2),(12.9,0.1),(13.0,0.5),(13.0,-0.4),
           (13.1,0.0),(13.2,0.2),(13.3,-0.3),(13.4,0.1),(13.5,-0.1),(13.7,0.2)]
core11 = [(8.55,0.4),(8.65,1.0),(8.75,0.1),(8.85,0.6),(8.95,-0.5),(9.05,0.9),(9.15,0.2),(9.25,-0.3),(9.35,1.0),
          (9.45,0.4),(9.55,-0.2),(9.65,0.7),(9.75,0.1),(9.85,-0.5),(9.95,0.6),(10.05,0.3),(10.15,-0.4),
          (10.25,0.0),(10.35,0.6),(10.45,-0.3),(10.55,0.3),(10.65,-0.6),(10.75,0.1),(10.85,0.5),(10.95,-0.5),
          (11.05,0.3),(11.15,-0.2),(11.25,0.4),(11.35,-0.5),(11.45,0.1),(11.55,-0.2),(11.65,0.5),(11.75,-0.5),
          (11.85,0.3),(11.95,-0.1),(12.05,-0.6),(12.15,0.2),(12.25,-0.3),(12.35,0.5),(12.45,-0.2),(12.55,0.1),
          (12.65,-0.6),(12.75,0.3),(12.85,-0.3),(12.95,0.2),(13.05,-0.1),(13.15,0.4),(13.25,-0.4),(13.35,0.2),
          (13.5,-0.2)]

panel12 = [(4.46,6.3),(6.68,1.68),(7.2,4.94),(7.24,-1.96),(7.41,4.05),(7.58,2.25),(7.69,3.92),(7.73,3.73),
           (7.69,3.35),(7.94,3.92),(7.98,4.53),(8.04,3.51),(8.15,4.46),(8.04,2.25),(8.19,2.34),(8.22,1.84),
           (8.25,1.14),(8.36,3.26),(8.47,3.04),(8.68,4.37),(8.42,2.25),(8.57,2.41),(8.74,1.93),(8.78,0.76),
           (8.85,0.13),(8.89,-0.44),(8.95,-0.7),(9.06,3.42),(9.17,-1.39),(9.85,-2.82),(9.92,3.57),(10.42,4.05),
           (10.59,2.78),(10.62,1.77),(10.1,-0.6),(11.19,-1.3),(11.38,-1.39),(11.44,-1.61),(11.87,-0.7),(11.87,2.09),
           (11.87,1.77),(12.33,2.88),(12.33,-2.5),(12.44,1.77),(12.54,1.77),(12.75,1.46),(12.69,-1.14),(13.0,-1.77),
           (13.11,2.25),(12.96,1.46),(13.49,0.19),(13.79,-0.38),(14.0,0.0),
           (8.6,2.6),(8.7,2.0),(8.8,2.9),(8.8,1.5),(8.9,2.3),(8.9,1.1),(9.0,1.8),(9.0,2.7),(9.1,1.3),(9.1,0.6),
           (9.2,2.1),(9.2,1.6),(9.3,1.0),(9.3,2.4),(9.4,1.5),(9.4,0.3),(9.5,1.9),(9.5,1.1),(9.6,0.7),(9.6,1.6),
           (9.7,1.2),(9.7,2.0),(9.8,0.4),(9.8,1.5),(9.9,0.9),(9.9,1.8),(10.0,0.2),(10.0,1.3),(10.1,0.7),(10.1,1.6),
           (10.2,-0.3),(10.2,1.0),(10.3,0.4),(10.3,1.4),(10.4,0.0),(10.4,0.8),(10.5,1.2),(10.5,0.3),(10.6,-0.4),
           (10.6,0.6),(10.7,1.0),(10.7,0.1),(10.8,0.5),(10.8,-0.2),(10.9,0.9),(10.9,0.2),(11.0,-0.5),(11.0,0.6),
           (11.1,0.0),(11.1,0.4),(11.2,0.8),(11.2,-0.3),(11.3,0.2),(11.3,0.5),(11.4,-0.1),(11.4,0.7),(11.5,0.3),
           (11.5,-0.6),(11.6,0.1),(11.6,0.5),(11.7,-0.2),(11.7,0.3),(11.8,0.0),(11.8,0.6),(11.9,-0.4),(11.9,0.2),
           (12.0,0.4),(12.0,-0.1),(12.1,0.1),(12.1,-0.6),(12.2,0.3),(12.2,0.0),(12.3,-0.3),(12.3,0.5),(12.4,0.1),
           (12.4,-0.2),(12.5,0.3),(12.5,-0.5),(12.6,0.0),(12.6,0.4),(12.7,-0.2),(12.7,0.2),(12.8,0.5),(12.8,-0.4),
           (12.9,0.1),(12.9,-0.1),(13.0,0.3),(13.0,-0.5),(13.1,0.0),(13.2,0.2),(13.3,-0.2),(13.4,0.3),(13.5,-0.1),
           (13.6,0.1),(13.8,0.2)]
core12 = [(9.05,2.2),(9.15,1.6),(9.25,1.9),(9.35,1.3),(9.45,1.8),(9.55,1.4),(9.65,0.9),(9.75,1.6),(9.85,1.1),
          (9.95,1.4),(10.05,0.8),(10.15,1.2),(10.25,0.6),(10.35,0.9),(10.45,0.4),(10.55,0.9),(10.65,0.3),
          (10.75,0.7),(10.85,0.0),(10.95,0.5),(11.05,0.2),(11.15,-0.4),(11.25,0.4),(11.35,0.0),(11.45,0.5),
          (11.55,-0.2),(11.65,0.3),(11.75,-0.5),(11.85,0.2),(11.95,0.5),(12.05,-0.3),(12.15,0.2),(12.25,-0.1),
          (12.35,0.4),(12.45,-0.4),(12.55,0.1),(12.65,-0.3),(12.75,0.4),(12.85,0.0),(12.95,-0.3),(13.05,0.2),
          (13.15,-0.2),(13.25,0.4),(13.35,0.0),(13.45,-0.3),(13.6,0.3),(13.75,-0.1),(13.9,0.2)]

panels = [panel1 + core1, panel2 + core2, panel3 + core3,
          panel4 + core4, panel5 + core5, panel6 + core6,
          panel7 + core7, panel8 + core8, panel9 + core9,
          panel10 + core10, panel11 + core11, panel12 + core12]

# x range of each panel
x_limits = [(4.65, 14.46), (5.17, 14.63), (4.16, 14.34),
            (5.97, 14.40), (5.70, 14.30), (5.88, 14.17),
            (4.17, 14.65), (3.40, 14.57), (3.81, 15.45),
            (2.49, 14.97), (3.10, 15.67), (4.08, 14.34)]
y_limits = (-6.48, 6.48)

x_label = "1/2log2(RG)"
y_label = "log2(R/G)"

W, H = 685, 871
col_left = [49, 277, 506]
col_width = 162
row_top = [33, 250, 467, 685]
row_height = [131, 136, 137, 137]

fig = plt.figure(figsize=(W / 100, H / 100), dpi=100)

for i, pts in enumerate(panels):
    r, c = divmod(i, 3)
    left = col_left[c] / W
    bottom = 1 - (row_top[r] + row_height[r]) / H
    ax = fig.add_axes([left, bottom, col_width / W, row_height[r] / H])

    xs = [p[0] for p in pts]
    ys = [p[1] for p in pts]
    ax.scatter(xs, ys, s=11, c='black', linewidths=0)

    ax.set_xlim(*x_limits[i])
    ax.set_ylim(*y_limits)
    ax.xaxis.set_major_locator(MultipleLocator(2))
    ax.yaxis.set_major_locator(MultipleLocator(2))
    ax.tick_params(direction='out', length=3.5, width=0.8, labelsize=8.5, pad=2)
    for lab in ax.get_yticklabels():
        lab.set_rotation(90)
        lab.set_va('center')
    for sp in ax.spines.values():
        sp.set_linewidth(0.9)

    ax.set_ylabel(y_label, fontsize=11, labelpad=2)
    # only the top and bottom rows show the x label
    if r in (0, 3):
        ax.set_xlabel(x_label, fontsize=11, labelpad=1)

fig.savefig("out.png", dpi=100)
